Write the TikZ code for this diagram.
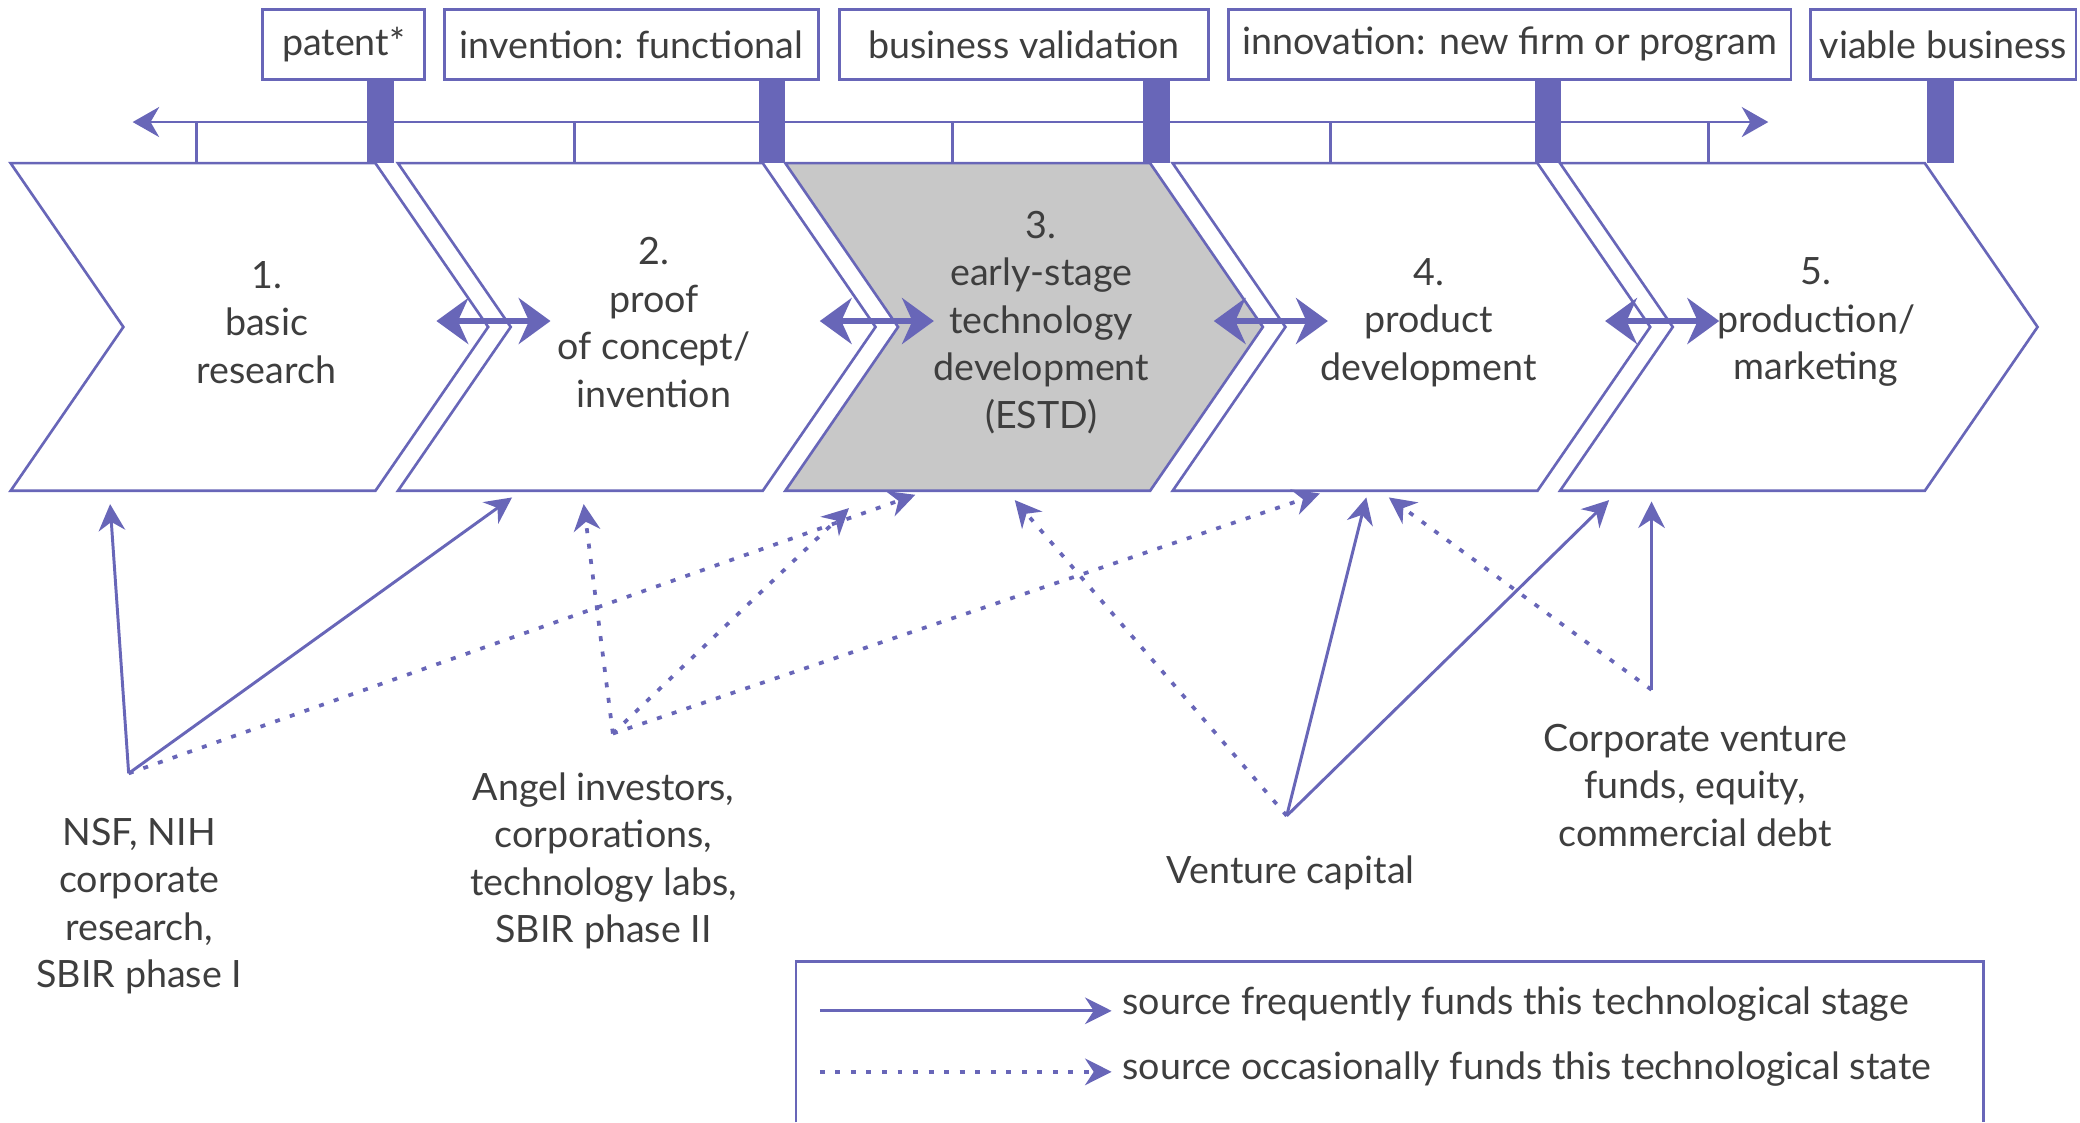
\documentclass[tikz,border=0pt]{standalone}
\usepackage{fontspec}
\setmainfont{Lato}
\usepackage{tikz}
\usetikzlibrary{calc,arrows.meta}
\definecolor{stageblue}{RGB}{104,102,184}
\definecolor{stagegray}{RGB}{200,200,200}
\definecolor{inkgray}{RGB}{62,62,62}
\def\px{0.15mm}
\def\Stage#1#2#3#4{%
	\filldraw[stage box, fill=#3] (#2,123) -- ++(275,0) -- ++(85,123.5)
		-- ++(-85,123.5) -- ++(-275,0) -- ++(85,-123.5) -- cycle;
	\coordinate (base#1) at (#2,370);
	\node[stage text] (stage#1) at (#2+193,243) {#4};
}
\def\Milestone#1#2#3#4{%
	\node[milestone box, minimum width=#3*\px] (#1) at (#2,33.5) {#4};
}

\begin{document}
\begin{tikzpicture}[x=\px, y=-\px,
	stage box/.style={draw=stageblue, line width=0.85pt},
	stage text/.style={align=center, text=inkgray, font=\fontsize{12.1}{15.3}\selectfont},
	milestone box/.style={stage box, stage text, fill=white, minimum height=53*\px, inner sep=0pt},
	stage link/.style={draw=stageblue, line width=2.2pt,
		{Stealth[length=3.6mm,width=5.2mm]}-{Stealth[length=3.6mm,width=5.2mm]}},
	often/.style={draw=stageblue, line width=0.95pt, -{Stealth[length=3mm,width=3mm]}},
	seldom/.style={often, line width=1.2pt, dash pattern=on 1.6pt off 3.4pt}]
\useasboundingbox (0,0) rectangle (1568,846);

% timeline
\Milestone{patent}{259}{122}{patent*}
\Milestone{invention}{476}{282}{invention: functional}
\Milestone{validation}{772}{278}{business validation}
\Milestone{innovation}{1138}{424}{innovation: new firm or program}
\Milestone{viable}{1465}{200}{viable business}
\coordinate (past) at (100,92);
\coordinate (future) at (1333,92);
\draw[stage box, {Stealth[length=3mm,width=3.4mm]}-{Stealth[length=3mm,width=3.4mm]}] (past) -- (future);
\foreach \x in {148,433,...,1288}
	\draw[stage box] (\x,92) -- (\x,123);
\foreach \x in {287,582,872,1167,1463}
	\fill[stageblue] (\x-10,61) rectangle (\x+10,123);

% stages
\Stage{1}{8}{white}{1.\\basic\\research}
\Stage{2}{300}{white}{2.\\proof\\of concept/\\invention}
\Stage{3}{592}{stagegray}{3.\\early-stage\\technology\\development\\(ESTD)}
\Stage{4}{884}{white}{4.\\product\\development}
\Stage{5}{1176}{white}{5.\\production/\\marketing}
\foreach \x in {372,661,958,1253}
	\draw[stage link] (\x-43,242) -- (\x+43,242);

% funding sources
\node[stage text] (nsf) at (105,683) {NSF, NIH\\corporate\\research,\\SBIR phase I};
\node[stage text] (angel) at (455,649) {Angel investors,\\corporations,\\technology labs,\\SBIR phase II};
\node[stage text] (vc) at (973,658) {Venture capital};
\node[stage text] (cvf) at (1278,592) {Corporate venture\\funds, equity,\\commercial debt};
\coordinate (nsf fork) at (97,583);
\coordinate (angel fork) at (462,553);
\coordinate (vc fork) at (970,615);
\coordinate (cvf fork) at (1245,520);

\draw[often] (nsf fork) -- ($(base1)+(75,10)$);
\draw[often] (nsf fork) -- ($(base2)+(86,5)$);
\draw[seldom] (nsf fork) -- ($(base3)+(98,3)$);
\draw[seldom] (angel fork) -- ($(base2)+(140,10)$);
\draw[seldom] (angel fork) -- ($(base3)+(48,13)$);
\draw[seldom] (angel fork) -- ($(base4)+(111,2)$);
\draw[seldom] (vc fork) -- ($(base3)+(173,7)$);
\draw[often] (vc fork) -- ($(base4)+(146,5)$);
\draw[often] (vc fork) -- ($(base5)+(37,7)$);
\draw[seldom] (cvf fork) -- ($(base4)+(163,5)$);
\draw[often] (cvf fork) -- ($(base5)+(69,8)$);

% legend
\draw[stage box] (600,846) -- (600,725) -- (1495,725) -- (1495,846);
\node[stage text, anchor=west] (often key) at (838,757) {source frequently funds this technological stage};
\node[stage text, anchor=west] (seldom key) at (838,806) {source occasionally funds this technological state};
\coordinate (often start) at (618,762);
\coordinate (seldom start) at (618,808);
\draw[often] (often start) -- (often start -| often key.west);
\draw[seldom] (seldom start) -- (seldom start -| seldom key.west);
\end{tikzpicture}
\end{document}
